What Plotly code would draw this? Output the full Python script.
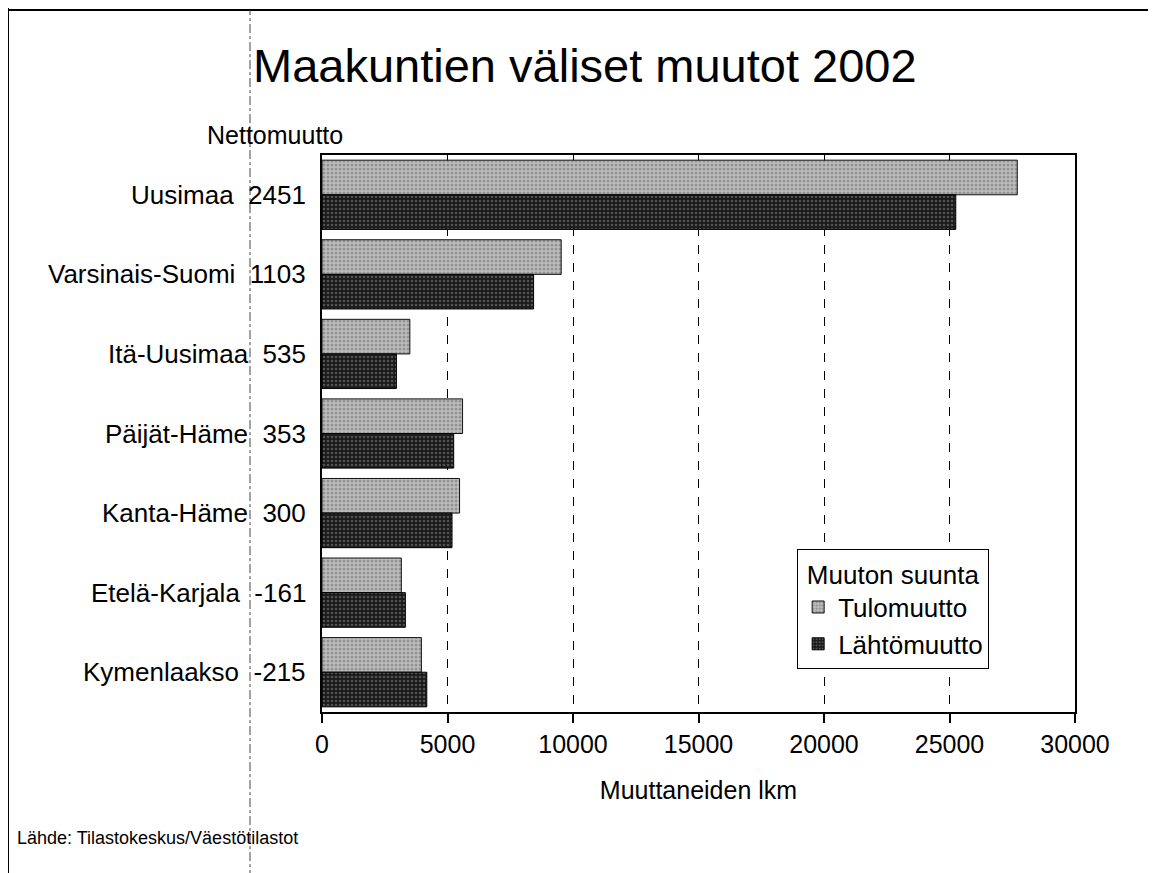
import plotly.graph_objects as go

regions = ["Uusimaa", "Varsinais-Suomi", "Itä-Uusimaa", "Päijät-Häme",
           "Kanta-Häme", "Etelä-Karjala", "Kymenlaakso"]
net_migration = [2451, 1103, 535, 353, 300, -161, -215]
tulomuutto = [27700, 9530, 3500, 5600, 5480, 3160, 3960]
lahtomuutto = [25250, 8430, 2965, 5247, 5180, 3321, 4175]
x_ticks = [0, 5000, 10000, 15000, 20000, 25000, 30000]

FONT = "Liberation Sans, Arial, sans-serif"
NBSP = "\u00a0"

fig = go.Figure()
fig.add_trace(go.Bar(
    y=regions, x=tulomuutto, orientation="h", name="Tulomuutto",
    marker=dict(color="#b5b5b5", line=dict(color="#111", width=1),
                pattern=dict(shape=".", size=4, solidity=0.45,
                             fgcolor="#666666", bgcolor="#bebebe")),
))
fig.add_trace(go.Bar(
    y=regions, x=lahtomuutto, orientation="h", name="Lähtömuutto",
    marker=dict(color="#333", line=dict(color="#000", width=1),
                pattern=dict(shape=".", size=4, solidity=0.35,
                             fgcolor="#8a8a8a", bgcolor="#1a1a1a")),
))

annotations = []
for r, n in zip(regions, net_migration):
    annotations.append(dict(x=-0.0186, y=r, xref="paper", yref="y",
                            text=f"{r}{NBSP}{NBSP}{n}",
                            showarrow=False, xanchor="right", yanchor="middle",
                            font=dict(size=26, color="black", family=FONT)))
annotations.append(dict(x=-0.155, y=1.036, xref="paper", yref="paper",
                        text="Nettomuutto", showarrow=False, xanchor="left",
                        yanchor="middle", font=dict(size=25, color="black", family=FONT)))
annotations.append(dict(x=-0.408, y=-0.227, xref="paper", yref="paper",
                        text="Lähde: Tilastokeskus/Väestötilastot", showarrow=False,
                        xanchor="left", yanchor="middle",
                        font=dict(size=18, color="black", family=FONT)))

shapes = [
    # scan frame
    dict(type="line", xref="paper", yref="paper", x0=-0.417, x1=-0.417,
         y0=-0.3, y1=1.275, line=dict(color="black", width=2)),
    dict(type="line", xref="paper", yref="paper", x0=-0.417, x1=1.11,
         y0=1.2603, y1=1.2603, line=dict(color="black", width=2)),
    # fold line
    dict(type="line", xref="paper", yref="paper", x0=-0.0956, x1=-0.0956,
         y0=-0.3, y1=1.26, line=dict(color="#444", width=1, dash="dashdot")),
]

W, H = 1148, 865
fig.update_layout(
    width=W, height=H,
    margin=dict(l=314, r=81, t=147, b=161),
    paper_bgcolor="white", plot_bgcolor="white",
    font=dict(family=FONT, size=25, color="black"),
    title=dict(text="Maakuntien väliset muutot 2002", x=245 / W, xanchor="left",
               xref="container", y=1 - 58 / H, yanchor="middle", yref="container",
               font=dict(size=47, family=FONT, color="black")),
    barmode="group", bargap=0.13, bargroupgap=0,
    xaxis=dict(range=[0, 30000], tickvals=x_ticks, ticktext=[str(v) for v in x_ticks],
               showgrid=True, gridcolor="black", griddash="dash", gridwidth=1.3,
               showline=True, linecolor="black", linewidth=2, mirror=True,
               ticks="outside", ticklen=9, tickcolor="black", tickwidth=2,
               tickfont=dict(size=25, family=FONT),
               title=dict(text="Muuttaneiden lkm", font=dict(size=25, family=FONT),
                          standoff=24),
               zeroline=False),
    yaxis=dict(autorange="reversed", showticklabels=False, showgrid=False,
               showline=True, linecolor="black", linewidth=2, mirror=True,
               ticks=""),
    legend=dict(x=0.631, y=0.293, xanchor="left", yanchor="top",
                bgcolor="white", bordercolor="black", borderwidth=1,
                font=dict(size=26, family=FONT),
                title=dict(text="Muuton suunta", side="top center",
                           font=dict(size=26, family=FONT)),
                traceorder="normal", tracegroupgap=0, itemwidth=30),
    annotations=annotations,
    shapes=shapes,
)

fig.write_html("out.html")
